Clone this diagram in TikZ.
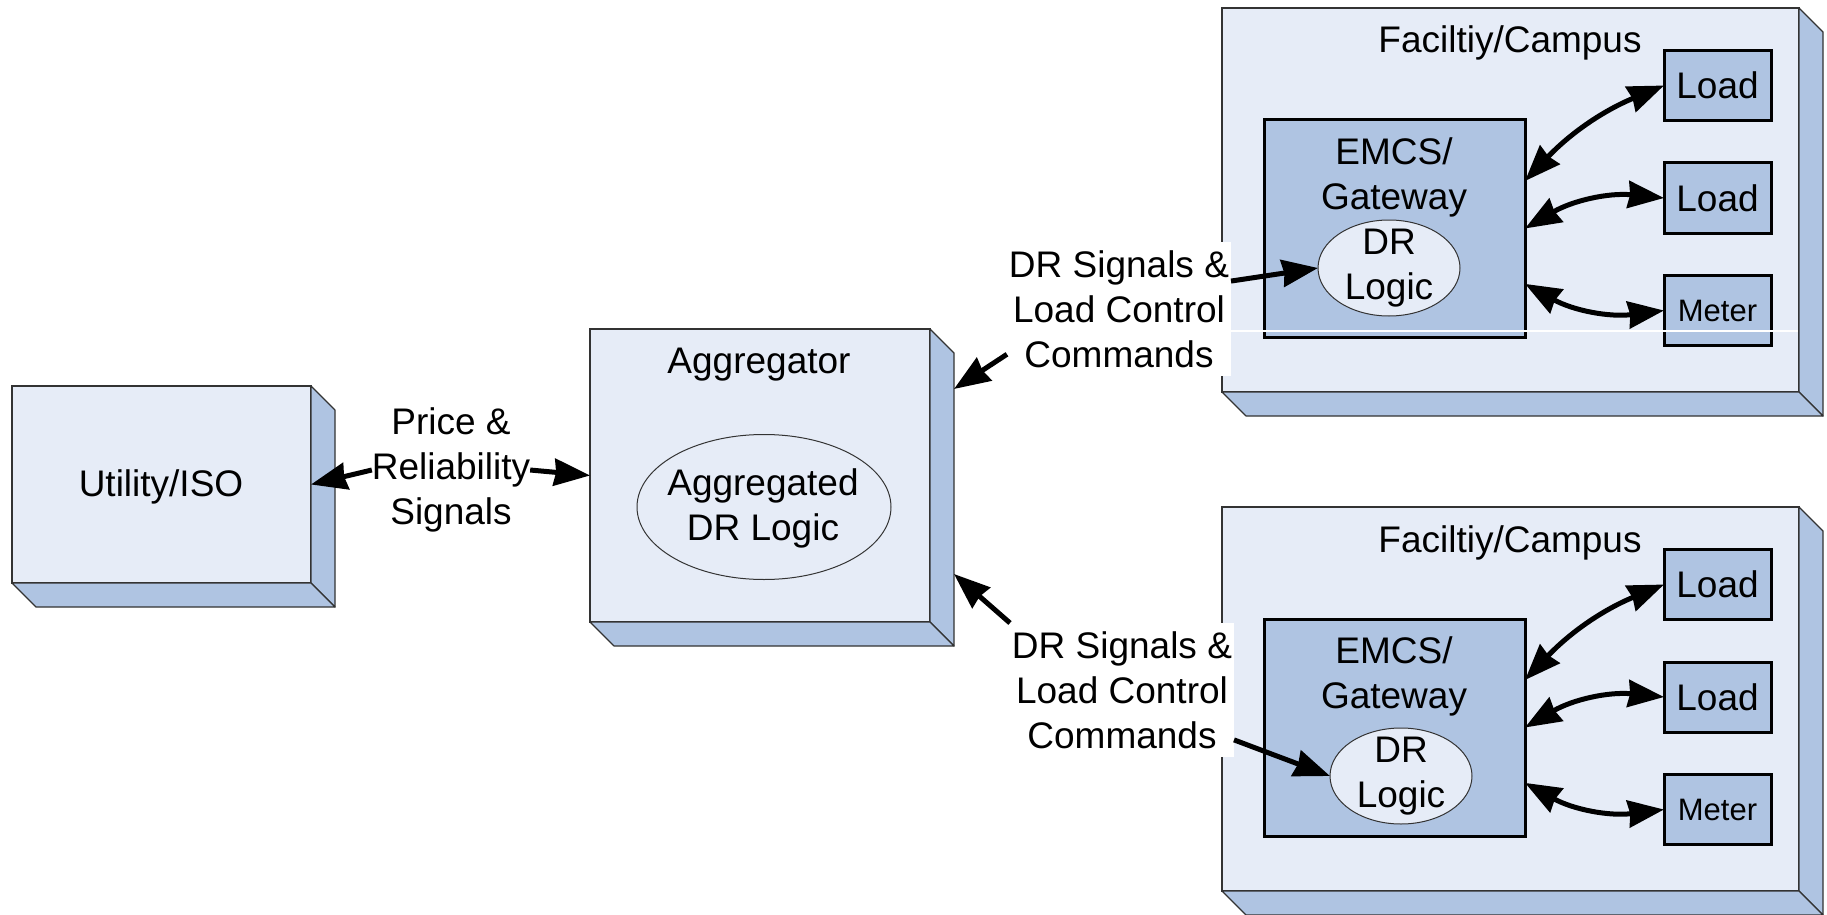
\documentclass[tikz,border=0pt]{standalone}
\usepackage{fontspec}
\setmainfont{Liberation Sans}
\usetikzlibrary{arrows.meta,shapes.geometric,calc}
\definecolor{facelight}{HTML}{E6ECF7}
\definecolor{facedark}{HTML}{AFC4E2}
\definecolor{edgegray}{HTML}{333333}
\tikzset{
  box3d/.style={rectangle, draw=edgegray, line width=0.6pt, fill=facelight, inner sep=0pt, outer sep=0pt},
  side3d/.style={draw=edgegray, line width=0.6pt, fill=facedark, line join=round},
  txt/.style={font=\fontsize{18.5}{22.5}\selectfont, align=center, inner sep=0pt, outer sep=0pt},
  unitbox/.style={rectangle, draw=black, line width=1.5pt, fill=facedark, inner sep=0pt, outer sep=0pt, font=\fontsize{18.5}{22.5}\selectfont},
  smallbox/.style={unitbox, minimum width=53.5pt, minimum height=35pt},
  meterbox/.style={smallbox, font=\fontsize{15.5}{18}\selectfont},
  logic/.style={ellipse, draw=black!80, line width=0.5pt, fill=facelight, inner sep=0pt, outer sep=0pt},
  lbl/.style={txt, fill=white, inner xsep=1pt, inner ysep=0pt, minimum height=67pt},
  tip/.tip={Stealth[length=18pt,width=13.5pt,inset=1pt]},
  arr/.style={line width=2.5pt, -tip},
  darr/.style={line width=2.5pt, tip-tip},
}
\begin{document}
\begin{tikzpicture}[x=0.5pt, y=-0.5pt]
\useasboundingbox (0,0) rectangle (1827,915);

% 3D boxes (front faces)
\node[box3d, minimum width=149.5pt, minimum height=98.5pt] (util) at (161.5,484.5) {};
\node[box3d, minimum width=170pt, minimum height=146.5pt] (agg) at (760,475.5) {};
\node[box3d, minimum width=288.5pt, minimum height=192pt] (fac1) at (1510.5,200) {};
\node[box3d, minimum width=288.5pt, minimum height=192pt] (fac2) at (1510.5,699) {};
\foreach \n in {util,agg,fac1,fac2}{
  \filldraw[side3d] (\n.north east) -- ++(24,24) -- ([shift={(24,24)}]\n.south east) -- (\n.south east) -- cycle;
  \filldraw[side3d] (\n.south west) -- ++(24,24) -- ([shift={(24,24)}]\n.south east) -- (\n.south east) -- cycle;
}

% Utility / Aggregator
\node[txt, anchor=base] (utilT) at (161,496) {Utility/ISO};
\node[txt, anchor=base] (aggT) at (759,373) {Aggregator};
\node[logic, minimum width=127pt, minimum height=72.5pt] (agglog) at (764,507) {};
\node[txt] (agglogT) at (763,508) {Aggregated\\DR Logic};
\node[txt] (price) at (451,470) {Price \&\\Reliability\\Signals};

% Facility 1
\node[txt, anchor=base] (fac1T) at (1510,53) {Faciltiy/Campus};
\node[unitbox, minimum width=130.5pt, minimum height=108.5pt] (emcs1) at (1394.5,228.5) {};
\node[txt] (emcs1T) at (1394,177.5) {EMCS/\\Gateway};
\node[logic, minimum width=71pt, minimum height=48pt] (drl1) at (1389,268) {};
\node[txt] (drl1T) at (1389,268) {DR\\Logic};
\node[smallbox] (ld11) at (1717.5,85.5) {Load};
\node[smallbox] (ld12) at (1717.5,198) {Load};
\node[meterbox] (mt1) at (1717.5,310.5) {Meter};

% Facility 2
\node[txt, anchor=base] (fac2T) at (1510,552) {Faciltiy/Campus};
\node[unitbox, minimum width=130.5pt, minimum height=108.5pt] (emcs2) at (1394.5,727.5) {};
\node[txt] (emcs2T) at (1394,676.5) {EMCS/\\Gateway};
\node[logic, minimum width=71pt, minimum height=48pt] (drl2) at (1401,776) {};
\node[txt] (drl2T) at (1401,776) {DR\\Logic};
\node[smallbox] (ld21) at (1717.5,584.5) {Load};
\node[smallbox] (ld22) at (1717.5,697) {Load};
\node[meterbox] (mt2) at (1717.5,809.5) {Meter};

% inner double arrows
\draw[darr] (emcs1.20) to[bend left=12] (ld11.west);
\draw[darr] (emcs1.east) to[bend left=18] (ld12.west);
\draw[darr] (emcs1.-23) to[bend right=18] (mt1.west);
\draw[darr] (emcs2.20) to[bend left=12] (ld21.west);
\draw[darr] (emcs2.east) to[bend left=18] (ld22.west);
\draw[darr] (emcs2.-23) to[bend right=18] (mt2.west);

% faint white line across facility 1
\draw[white, line width=0.6pt] (1231,331) -- (1798,331);

% labels with white background
\node[lbl] (lbl1) at (1119,309) {DR Signals \&\\Load Control\\Commands};
\node[lbl] (lbl2) at (1122,690) {DR Signals \&\\Load Control\\Commands};

\coordinate (aggIn1) at ([shift={(24,60)}]agg.north east);
\coordinate (aggIn2) at ([shift={(24,245)}]agg.north east);

\draw[arr] (lbl1.202) -- (aggIn1);
\draw[arr] (lbl1.14) -- (drl1.west);
\draw[arr] (lbl2.north west) -- (aggIn2);
\draw[arr] (lbl2.-24) -- (drl2.west);
\draw[arr] (price.west) -- (util.east);
\draw[arr] (price.east) -- (agg.west);
\end{tikzpicture}
\end{document}
